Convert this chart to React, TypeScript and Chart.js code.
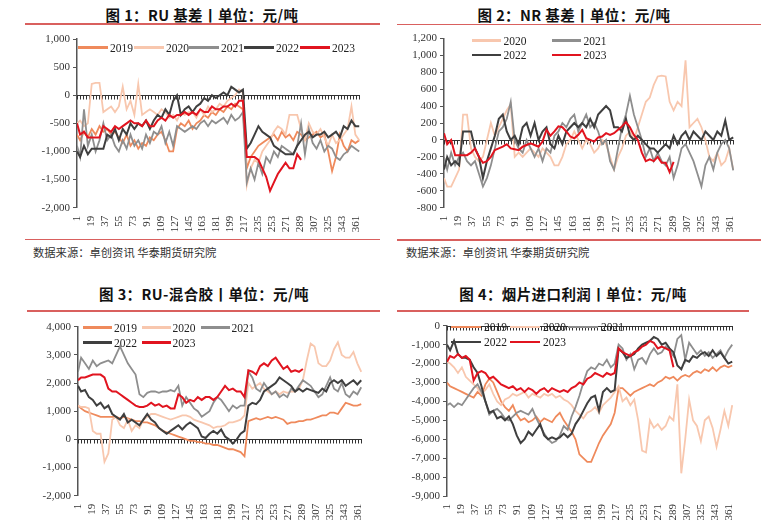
import React, { useEffect, useRef } from 'react';
import { Chart, registerables } from 'chart.js';
Chart.register(...registerables);

// Day index of each sampled value (x positions, 1..366)
const DAYS = [1,5,10,15,20,25,30,35,40,45,50,55,60,65,70,75,80,85,90,95,100,105,110,115,120,125,130,135,140,145,150,155,160,165,170,175,180,185,190,195,200,205,210,215,220,225,230,235,240,245,250,255,260,265,270,275,280,285,290,295,300,305,310,315,320,325,330,335,340,345,350,355,360,365];
const X_TICKS = [1,19,37,55,73,91,109,127,145,163,181,199,217,235,253,271,289,307,325,343,361];

const COLORS: Record<string, string> = {
  '2019': '#ef8a5c',
  '2020': '#f8c7ae',
  '2021': '#8e8e8e',
  '2022': '#3f3f3f',
  '2023': '#e1141f',
};

// ---------- 图1 RU 基差 ----------
const RU_2019 = [
-700,-800,-650,-750,-600,-700,-550,-650,-600,-700,
-650,-750,-850,-700,-900,-800,-950,-850,-900,-750,
-800,-700,-650,-800,-1000,-1000,-600,-500,-550,-450,
-600,-500,-450,-350,-400,-300,-350,-250,-300,-200,
-250,-150,-200,-250,-1300,-1100,-1000,-900,-850,-800,
-750,-700,-800,-650,-750,-700,-800,-650,-700,-800,
-750,-700,-650,-750,-700,-1000,-1350,-1100,-700,-900,
-1000,-800,-850,-800];
const RU_2020 = [
-500,-450,-550,-500,200,220,220,-300,-250,-200,
-300,-200,150,-250,-100,-350,200,-350,-300,-250,
-300,-350,-250,-300,-400,-350,-450,-300,-350,-300,
-300,-400,-250,-350,-200,-300,-250,-150,-200,-100,
-50,0,100,50,-1600,-1300,-1150,-1200,-1000,-900,
-800,-650,-550,-600,-700,-350,-350,-350,-600,-800,
-500,-650,-700,-600,-750,-900,-700,-850,-800,-700,
-600,-200,-700,-800];
const RU_2021 = [
-900,-1100,-250,-900,-700,-1000,-800,-500,-800,-700,
-900,-1000,-800,-950,-700,-900,-800,-950,-700,-850,
-650,-700,-550,-850,-650,-900,-550,-600,-650,-600,
-550,-600,-500,-450,-550,-450,-500,-450,-400,-500,
-350,-450,-400,-300,-1550,-1300,-1500,-1200,-1400,-1100,
-1200,-1000,-1100,-900,-950,-1000,-1050,-900,-500,-1050,
-600,-850,-950,-800,-1000,-900,-950,-1100,-1150,-1050,
-1000,-900,-950,-1000];
const RU_2022 = [
-1000,-1100,-900,-1050,-950,-950,-950,-950,-700,-750,
-600,-800,-600,-700,-500,-600,-500,-550,-450,-600,
-450,-350,-400,-250,-350,-100,0,-350,-250,-200,
-300,-200,-150,-50,-100,0,-50,0,50,0,
150,100,50,100,-950,-850,-700,-550,-650,-700,
-750,-900,-950,-1000,-1050,-1050,-1050,-900,-800,-700,
-650,-750,-700,-700,-650,-750,-700,-650,-750,-550,
-600,-450,-550,-550];
const RU_2023 = [
-500,-700,-650,-750,-750,-750,-750,-550,-600,-650,
-550,-600,-550,-500,-450,-500,-500,-550,-450,-550,
-550,-450,-400,-450,-350,-400,-350,-350,-300,-350,
-300,-350,-250,-300,-300,-200,-250,-250,-200,-200,
-150,-200,-100,-100,-1100,-1100,-1100,-1150,-1300,-1450,
-1700,-1550,-1400,-1300,-1200,-1300,-1300,-1050,-1150];

// ---------- 图2 NR 基差 ----------
const NR_2020 = [
-450,-550,-550,-450,-350,300,300,-100,-200,-250,
-200,0,200,50,150,250,350,420,-200,-150,
-200,-150,-100,-150,-200,-100,-150,-200,-300,-300,
-200,-50,0,100,0,-100,0,-50,-150,-100,
0,-50,-200,-350,-200,-100,50,100,0,150,
300,450,500,650,750,760,750,450,350,450,
400,940,150,200,250,150,0,-200,-250,-150,
-300,-250,-100,-350];
const NR_2021 = [
-200,-350,-150,-300,-200,-150,-250,-300,-250,-400,
-550,-450,-300,-100,100,150,250,450,0,-100,
-150,0,-100,-200,-100,-250,-100,-150,50,100,
200,150,250,300,100,200,300,150,200,100,
-50,0,-250,-350,-100,150,300,520,300,150,
0,-200,-100,-250,-150,-250,-300,-200,-450,-300,
-100,-50,-150,-250,-400,-550,-300,-200,-350,-150,
-50,0,-100,-360];
const NR_2022 = [
-350,-200,-300,-250,-300,100,100,100,-100,-200,
-450,-250,-100,50,250,300,100,0,50,-50,
150,200,50,200,0,100,150,-50,-100,50,
-50,100,150,200,150,200,150,250,150,300,
350,400,350,150,150,100,250,50,0,50,
0,-50,-100,-100,-150,-100,-50,-100,50,-50,
50,100,0,100,50,0,100,50,0,100,
50,230,0,30];
const NR_2023 = [
80,-50,0,-180,-180,-180,-180,-150,-100,-200,
-270,-250,-200,-120,-100,-80,-50,-100,-110,-120,
-80,-60,-40,-60,-80,-20,120,50,100,160,
150,100,40,20,60,120,20,0,-20,30,
40,80,60,80,120,160,210,150,60,0,
-150,-250,-230,-250,-200,-270,-270,-380,-260];

// ---------- 图3 RU-混合胶 ----------
const MIX_2019 = [
1200,1100,1000,950,900,850,800,800,800,800,
800,750,800,750,700,650,650,600,600,550,
500,400,300,250,200,150,100,50,0,-50,
-50,-100,-100,-150,-150,-200,-200,-250,-300,-350,
-350,-400,-450,-600,650,700,750,700,750,800,
750,800,750,700,550,600,600,650,650,700,
700,750,800,850,850,950,950,900,1100,1300,
1250,1200,1200,1250];
const MIX_2020 = [
1200,1150,1150,1100,300,200,200,-800,-500,700,
800,500,400,700,300,500,400,700,800,900,
900,850,800,750,700,750,800,850,850,800,
700,650,600,550,500,400,450,450,500,600,
600,650,700,850,2000,1800,1900,2000,1800,1700,
1600,1700,1600,1700,1650,1700,1700,1800,2100,2800,
3400,3300,2700,2600,2600,2800,3200,3450,3000,2900,
2900,3100,2700,2400];
const MIX_2021 = [
2400,2900,2700,2500,2800,2600,2700,2750,2800,2700,
3000,3300,3000,2700,2500,2300,1600,1500,1650,1700,
1700,1650,1700,1700,1750,1700,1900,1200,1500,1300,
1100,1000,800,900,1000,1300,1500,1400,1200,1000,
1200,1100,1200,1200,2400,2200,1800,1700,2000,1800,
1600,1700,1500,1600,1500,1800,1700,1900,2100,2000,
1900,1700,1500,1600,1900,2200,1800,1700,2000,1600,
1500,1700,1600,1850];
const MIX_2022 = [
1900,1700,1750,1500,1400,1200,1300,1100,1200,900,
800,700,900,600,700,600,500,700,900,700,
600,400,300,200,300,400,500,350,500,600,
500,400,100,50,200,300,200,350,100,0,
-150,0,200,300,1200,1300,1250,1400,1700,1800,
1900,2000,2200,2100,2000,1900,1700,1800,1700,1800,
1750,1700,1650,1800,1700,2000,2100,2000,2100,1900,
2000,2100,1950,2100];
const MIX_2023 = [
2100,2200,2200,2250,2300,2300,2300,2200,1800,1700,
1700,1600,1500,1400,1300,1200,1150,1150,1200,1300,
1200,1250,1150,1200,1100,1100,1600,1500,1300,1400,
1350,1500,1400,1500,1500,1400,1500,1700,1900,1750,
1800,1700,1700,1500,2450,2400,2300,2600,2700,2600,
2800,2900,2700,2500,2600,2400,2450,2400,2500];

// ---------- 图4 烟片进口利润 ----------
const IMP_2019 = [
-3000,-3200,-3300,-3400,-3500,-3600,-3700,-3800,-3500,-3700,
-3100,-2800,-3000,-3500,-4000,-4300,-4500,-4200,-4700,-5000,
-4900,-5100,-5000,-4800,-5100,-4900,-5000,-5100,-4800,-4600,
-5000,-5300,-5600,-6000,-6800,-7000,-7200,-7200,-6700,-6200,
-5800,-5500,-5200,-4600,-3300,-3300,-3500,-3700,-3500,-3400,
-3300,-3200,-3100,-3200,-3000,-2900,-2700,-2800,-2700,-2900,
-2700,-2600,-2700,-2500,-2400,-2500,-2300,-2400,-2200,-2400,
-2200,-2100,-2200,-2100];
const IMP_2020 = [
-1900,-2000,-2200,-2500,-2200,-2700,-2900,-3100,-3300,-3600,
-3400,-3100,-3600,-4000,-4200,-3900,-3800,-3600,-3700,-3600,
-3500,-3800,-3600,-3700,-3800,-3600,-3700,-3600,-3800,-3700,
-3900,-4000,-4200,-4500,-4700,-4900,-4600,-4500,-4300,-4600,
-4200,-4000,-3800,-3500,-3200,-4000,-3800,-4200,-3900,-5000,
-6600,-6700,-5000,-5400,-5200,-5500,-5300,-4800,-5000,-3100,
-7800,-6000,-3900,-5000,-5300,-6100,-5000,-4800,-5400,-6400,
-5500,-4500,-5300,-4200];
const IMP_2021 = [
-4200,-4100,-4300,-4100,-4200,-3900,-3600,-3300,-3100,-3500,
-4000,-4700,-4500,-4400,-4600,-4900,-5000,-4800,-4600,-4500,
-4600,-4700,-4400,-4900,-5300,-5700,-6000,-6200,-6100,-5800,
-5300,-5500,-4800,-4300,-3700,-3000,-2400,-2200,-2300,-2000,
-2100,-1800,-2200,-2000,-1000,-1200,-1800,-1500,-2300,-1800,
-1700,-2000,-1500,-1200,-1500,-1400,-1100,-1300,-1600,-700,
-500,-1800,-900,-1200,-1500,-1300,-1600,-1400,-1700,-1500,
-1300,-1700,-1300,-1000];
const IMP_2022 = [
-1000,-1300,-800,-1500,-1700,-1700,-1800,-2200,-2500,-3200,
-4000,-4600,-4500,-4900,-4800,-5000,-4800,-5200,-5800,-6200,
-6000,-5600,-5800,-5500,-5200,-5800,-6000,-5900,-6000,-5900,
-5700,-5900,-5700,-5200,-4900,-4500,-4100,-3800,-3700,-4500,
-3500,-3300,-3500,-3400,-1200,-1400,-1700,-1600,-1500,-1200,
-1000,-900,-800,-600,-700,-1000,-900,-1200,-1400,-2100,
-2300,-1800,-1900,-1600,-1700,-1500,-1400,-1600,-1300,-1600,
-1400,-1700,-2000,-1900];
const IMP_2023 = [
-1900,-1600,-1700,-1500,-1700,-1600,-1800,-2900,-2500,-2400,
-2500,-2800,-2700,-2900,-3100,-3200,-3300,-3200,-3400,-3300,
-3500,-3300,-3400,-3600,-3400,-3300,-3500,-3300,-3400,-3500,
-3400,-3500,-3300,-3200,-3000,-3100,-2800,-2700,-2500,-2600,
-2700,-2500,-2600,-2500,-1200,-1400,-1500,-1600,-1400,-1300,
-1100,-1000,-800,-900,-1200,-1100,-1200,-1300,-2200];

const TITLES = [
  { text: '图 1：RU 基差丨单位：元/吨', cx: 202, cy: 15 },
  { text: '图 2：NR 基差丨单位：元/吨', cx: 574, cy: 15 },
  { text: '图 3：RU-混合胶丨单位：元/吨', cx: 204, cy: 294 },
  { text: '图 4：烟片进口利润丨单位：元/吨', cx: 573, cy: 294 },
];
const SOURCE_TEXT = '数据来源：卓创资讯 华泰期货研究院';

type Series = { year: string; values: number[] };
type LegendItem = { year: string; x: number; y: number; w: number; gap: number };
type Spec = {
  left: number; top: number; width: number; height: number;
  yAxisW: number; padR: number; padT: number; xAxisH: number;
  yMin: number; yMax: number; yStep: number;
  series: Series[];
  legend: LegendItem[];
};

const SPECS: Spec[] = [
  {
    left: 0, top: 26, width: 384, height: 210,
    yAxisW: 77, padR: 24, padT: 13, xAxisH: 28.3,
    yMin: -2000, yMax: 1000, yStep: 500,
    series: [
      { year: '2019', values: RU_2019 },
      { year: '2020', values: RU_2020 },
      { year: '2021', values: RU_2021 },
      { year: '2022', values: RU_2022 },
      { year: '2023', values: RU_2023 },
    ],
    legend: [
      { year: '2019', x: 78, y: 47.7, w: 29.5, gap: 32 },
      { year: '2020', x: 134, y: 47.7, w: 29.5, gap: 32 },
      { year: '2021', x: 189, y: 47.7, w: 29.5, gap: 32 },
      { year: '2022', x: 244, y: 47.7, w: 29.5, gap: 32 },
      { year: '2023', x: 300, y: 47.7, w: 29.5, gap: 32 },
    ],
  },
  {
    left: 384, top: 26, width: 383, height: 210,
    yAxisW: 60, padR: 33, padT: 12.3, xAxisH: 28.3,
    yMin: -800, yMax: 1200, yStep: 200,
    series: [
      { year: '2020', values: NR_2020 },
      { year: '2021', values: NR_2021 },
      { year: '2022', values: NR_2022 },
      { year: '2023', values: NR_2023 },
    ],
    legend: [
      { year: '2020', x: 472, y: 40.7, w: 28.5, gap: 31.5 },
      { year: '2021', x: 552, y: 40.7, w: 28.5, gap: 31.5 },
      { year: '2022', x: 472, y: 55, w: 28.5, gap: 31.5 },
      { year: '2023', x: 552, y: 55, w: 28.5, gap: 31.5 },
    ],
  },
  {
    left: 0, top: 316, width: 384, height: 206,
    yAxisW: 78, padR: 22, padT: 10.7, xAxisH: 26.3,
    yMin: -2000, yMax: 4000, yStep: 1000,
    series: [
      { year: '2019', values: MIX_2019 },
      { year: '2020', values: MIX_2020 },
      { year: '2021', values: MIX_2021 },
      { year: '2022', values: MIX_2022 },
      { year: '2023', values: MIX_2023 },
    ],
    legend: [
      { year: '2019', x: 83, y: 327.5, w: 29, gap: 31 },
      { year: '2020', x: 141.5, y: 327.5, w: 29, gap: 31 },
      { year: '2021', x: 200.5, y: 327.5, w: 29, gap: 31 },
      { year: '2022', x: 83, y: 342.5, w: 29, gap: 31 },
      { year: '2023', x: 141.5, y: 342.5, w: 29, gap: 31 },
    ],
  },
  {
    left: 384, top: 316, width: 383, height: 206,
    yAxisW: 63, padR: 34, padT: 9.7, xAxisH: 26,
    yMin: -9000, yMax: 0, yStep: 1000,
    series: [
      { year: '2019', values: IMP_2019 },
      { year: '2020', values: IMP_2020 },
      { year: '2021', values: IMP_2021 },
      { year: '2022', values: IMP_2022 },
      { year: '2023', values: IMP_2023 },
    ],
    legend: [
      { year: '2019', x: 451, y: 327, w: 30, gap: 33 },
      { year: '2020', x: 510, y: 327, w: 30, gap: 33 },
      { year: '2021', x: 568, y: 327, w: 30, gap: 33 },
      { year: '2022', x: 451, y: 342, w: 30, gap: 33 },
      { year: '2023', x: 510, y: 342, w: 30, gap: 33 },
    ],
  },
];

const RULES = [
  { x: 25, y: 24, w: 355 },
  { x: 25, y: 239.5, w: 355 },
  { x: 397, y: 24.5, w: 364 },
  { x: 397, y: 240, w: 364 },
  { x: 27, y: 311, w: 353 },
  { x: 397, y: 311, w: 352 },
];

const SERIF = '"Liberation Serif", "Times New Roman", serif';
const CJK = '"Noto Sans CJK SC", "Noto Sans", sans-serif';

const zeroComb = {
  id: 'zeroComb',
  beforeDatasetsDraw(chart: any) {
    const { ctx, chartArea, scales } = chart;
    const x = scales.x;
    const y = scales.y;
    const y0 = Math.round(y.getPixelForValue(0)) + 0.5;
    ctx.save();
    ctx.strokeStyle = '#333';
    ctx.lineWidth = 1;
    ctx.beginPath();
    ctx.moveTo(chartArea.left, y0);
    ctx.lineTo(chartArea.right, y0);
    for (let d = 1; d <= 366; d += 4) {
      const px = Math.round(x.getPixelForValue(d)) + 0.5;
      ctx.moveTo(px, y0);
      ctx.lineTo(px, y0 + 4);
    }
    ctx.stroke();
    ctx.restore();
  },
};

function Panel({ spec }: { spec: Spec }) {
  const ref = useRef<HTMLCanvasElement>(null);
  useEffect(() => {
    const n = spec.series.length;
    const chart = new Chart(ref.current as HTMLCanvasElement, {
      type: 'line',
      data: {
        datasets: spec.series.map((s, i) => ({
          label: s.year,
          data: s.values.map((v, j) => ({ x: DAYS[j], y: v })),
          borderColor: COLORS[s.year],
          backgroundColor: COLORS[s.year],
          borderWidth: s.year === '2023' || s.year === '2022' ? 2 : 1.8,
          pointRadius: 0,
          fill: false,
          tension: 0,
          order: n - i,
        })),
      },
      options: {
        responsive: false,
        animation: false,
        events: [],
        layout: { padding: { left: 0, right: spec.padR, top: spec.padT, bottom: 0 } },
        plugins: { legend: { display: false }, tooltip: { enabled: false } },
        scales: {
          x: {
            type: 'linear',
            min: 1,
            max: 366,
            afterBuildTicks: (axis: any) => {
              axis.ticks = X_TICKS.map((v) => ({ value: v }));
            },
            afterFit: (axis: any) => {
              axis.height = spec.xAxisH;
            },
            grid: { display: false, drawTicks: false },
            border: { display: false },
            ticks: {
              autoSkip: false,
              maxRotation: 90,
              minRotation: 90,
              padding: 8,
              color: '#333',
              font: { family: SERIF, size: 11 },
              callback: (v: any) => String(v),
            },
          },
          y: {
            type: 'linear',
            min: spec.yMin,
            max: spec.yMax,
            afterFit: (axis: any) => {
              axis.width = spec.yAxisW;
            },
            grid: { drawOnChartArea: false, drawTicks: true, tickLength: 4, color: '#555', lineWidth: 1 },
            border: { display: true, color: '#555', width: 1.5 },
            ticks: {
              stepSize: spec.yStep,
              padding: 3,
              color: '#333',
              font: { family: SERIF, size: 11 },
              callback: (v: any) => Number(v).toLocaleString('en-US'),
            },
          },
        },
      } as any,
      plugins: [zeroComb],
    });
    return () => chart.destroy();
  }, [spec]);
  return (
    <canvas
      ref={ref}
      width={spec.width}
      height={spec.height}
      style={{ position: 'absolute', left: spec.left, top: spec.top, width: spec.width, height: spec.height }}
    />
  );
}

function Legend({ items }: { items: LegendItem[] }) {
  return (
    <>
      {items.map((it) => (
        <React.Fragment key={it.year + it.x + it.y}>
          <div
            style={{
              position: 'absolute', left: it.x, top: it.y - 1.25, width: it.w, height: 2.5,
              background: COLORS[it.year],
            }}
          />
          <div
            style={{
              position: 'absolute', left: it.x + it.gap, top: it.y - 8, height: 16, lineHeight: '16px',
              fontFamily: SERIF, fontSize: 11.5, color: '#222', whiteSpace: 'nowrap',
            }}
          >
            {it.year}
          </div>
        </React.Fragment>
      ))}
    </>
  );
}

export default function App() {
  useEffect(() => {
    document.body.style.margin = '0';
  }, []);
  return (
    <div style={{ position: 'absolute', left: 0, top: 0, width: 767, height: 522, background: '#fff', overflow: 'hidden' }}>
      {SPECS.map((s, i) => (
        <Panel key={i} spec={s} />
      ))}
      {SPECS.map((s, i) => (
        <Legend key={'l' + i} items={s.legend} />
      ))}
      {TITLES.map((t, i) => (
        <div
          key={'t' + i}
          style={{
            position: 'absolute', left: t.cx - 170, top: t.cy - 10, width: 340, height: 20, lineHeight: '20px',
            textAlign: 'center', fontFamily: CJK, fontWeight: 700, fontSize: 14.5, letterSpacing: 0.4,
            color: '#111', whiteSpace: 'nowrap',
          }}
        >
          {t.text}
        </div>
      ))}
      {RULES.map((r, i) => (
        <div key={'r' + i} style={{ position: 'absolute', left: r.x, top: r.y - 0.75, width: r.w, height: 1.5, background: '#d9605e' }} />
      ))}
      <div style={{ position: 'absolute', left: 33, top: 244, lineHeight: '16px', fontFamily: CJK, fontSize: 11.3, color: '#333', whiteSpace: 'nowrap' }}>
        {SOURCE_TEXT}
      </div>
      <div style={{ position: 'absolute', left: 406, top: 244, lineHeight: '16px', fontFamily: CJK, fontSize: 11.3, color: '#333', whiteSpace: 'nowrap' }}>
        {SOURCE_TEXT}
      </div>
    </div>
  );
}
